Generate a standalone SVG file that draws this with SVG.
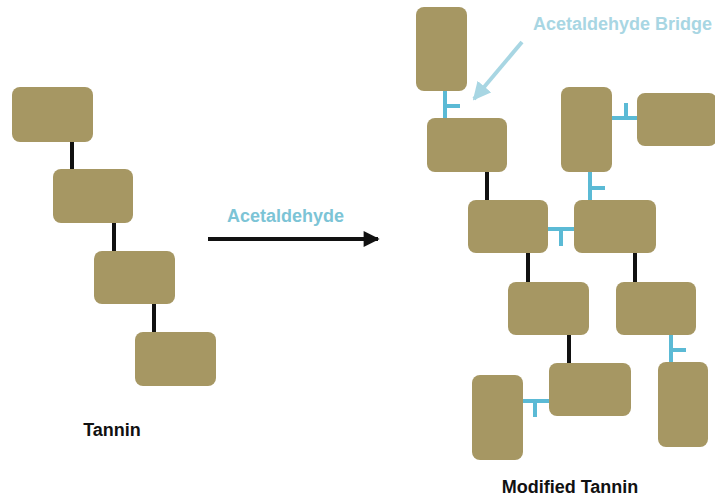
<svg xmlns="http://www.w3.org/2000/svg" width="715" height="497" viewBox="0 0 715 497">
<style>
.box{fill:#a69763}
.blk{stroke:#111;stroke-width:4;fill:none}
.bl{stroke:#5bbad5;stroke-width:4;fill:none}
.lbl{font-family:"Liberation Sans",Arial,sans-serif;font-weight:bold;font-size:18px;fill:#111;text-anchor:middle}
.acet{font-family:"Liberation Sans",Arial,sans-serif;font-weight:bold;font-size:18px;fill:#7cc4d6}
</style>
<defs>
<marker id="ah" viewBox="0 0 10 10" refX="9" refY="5" markerWidth="5" markerHeight="4" orient="auto" markerUnits="strokeWidth"><path d="M0,0L10,5L0,10z" fill="#111"/></marker>
<marker id="ahb" viewBox="0 0 10 10" refX="9" refY="5" markerWidth="4.5" markerHeight="4.5" orient="auto" markerUnits="strokeWidth"><path d="M0,0L10,5L0,10z" fill="#a8d6e3"/></marker>
</defs>
<g id="connectors">
<line class="blk" x1="72" y1="142" x2="72" y2="169"/>
<line class="blk" x1="114" y1="223" x2="114" y2="251"/>
<line class="blk" x1="154" y1="304" x2="154" y2="332"/>
<line class="blk" x1="487" y1="172" x2="487" y2="200"/>
<line class="blk" x1="528" y1="253" x2="528" y2="282"/>
<line class="blk" x1="635" y1="253" x2="635" y2="282"/>
<line class="blk" x1="569" y1="335" x2="569" y2="363"/>
<path class="bl" d="M445,91V118M445,106H460"/>
<path class="bl" d="M612,118H637M626,103V118"/>
<path class="bl" d="M548,229H574M561,229V246"/>
<path class="bl" d="M590,172V200M590,188H605"/>
<path class="bl" d="M523,401H549M535,401V417"/>
<path class="bl" d="M671,335V362M671,350H686"/>
<line x1="208" y1="239" x2="378" y2="239" stroke="#111" stroke-width="4" marker-end="url(#ah)"/>
<line x1="522" y1="42" x2="474" y2="99" stroke="#a8d6e3" stroke-width="4" marker-end="url(#ahb)"/>
</g>
<g id="t1"><rect class="box" x="12" y="87" width="81" height="55" rx="8"/></g>
<g id="t2"><rect class="box" x="53" y="169" width="80" height="54" rx="8"/></g>
<g id="t3"><rect class="box" x="94" y="251" width="81" height="53" rx="8"/></g>
<g id="t4"><rect class="box" x="135" y="332" width="81" height="54" rx="8"/></g>
<g id="m1"><rect class="box" x="416" y="7" width="51" height="84" rx="8"/></g>
<g id="m2"><rect class="box" x="427" y="118" width="80" height="54" rx="8"/></g>
<g id="m3"><rect class="box" x="561" y="87" width="51" height="85" rx="8"/></g>
<g id="m4"><rect class="box" x="637" y="93" width="80" height="53" rx="8"/></g>
<g id="m5"><rect class="box" x="468" y="200" width="80" height="53" rx="8"/></g>
<g id="m6"><rect class="box" x="574" y="200" width="82" height="53" rx="8"/></g>
<g id="m7"><rect class="box" x="508" y="282" width="81" height="53" rx="8"/></g>
<g id="m8"><rect class="box" x="616" y="282" width="80" height="53" rx="8"/></g>
<g id="m9"><rect class="box" x="549" y="363" width="82" height="53" rx="8"/></g>
<g id="m10"><rect class="box" x="472" y="375" width="51" height="85" rx="8"/></g>
<g id="m11"><rect class="box" x="658" y="362" width="50" height="85" rx="8"/></g>
<g id="labels">
<text class="lbl" x="112" y="436">Tannin</text>
<text class="lbl" x="570" y="493">Modified Tannin</text>
<text class="acet" x="227" y="222">Acetaldehyde</text>
<text class="acet" x="533" y="30" style="fill:#a8d6e3">Acetaldehyde Bridge</text>
</g>
</svg>
